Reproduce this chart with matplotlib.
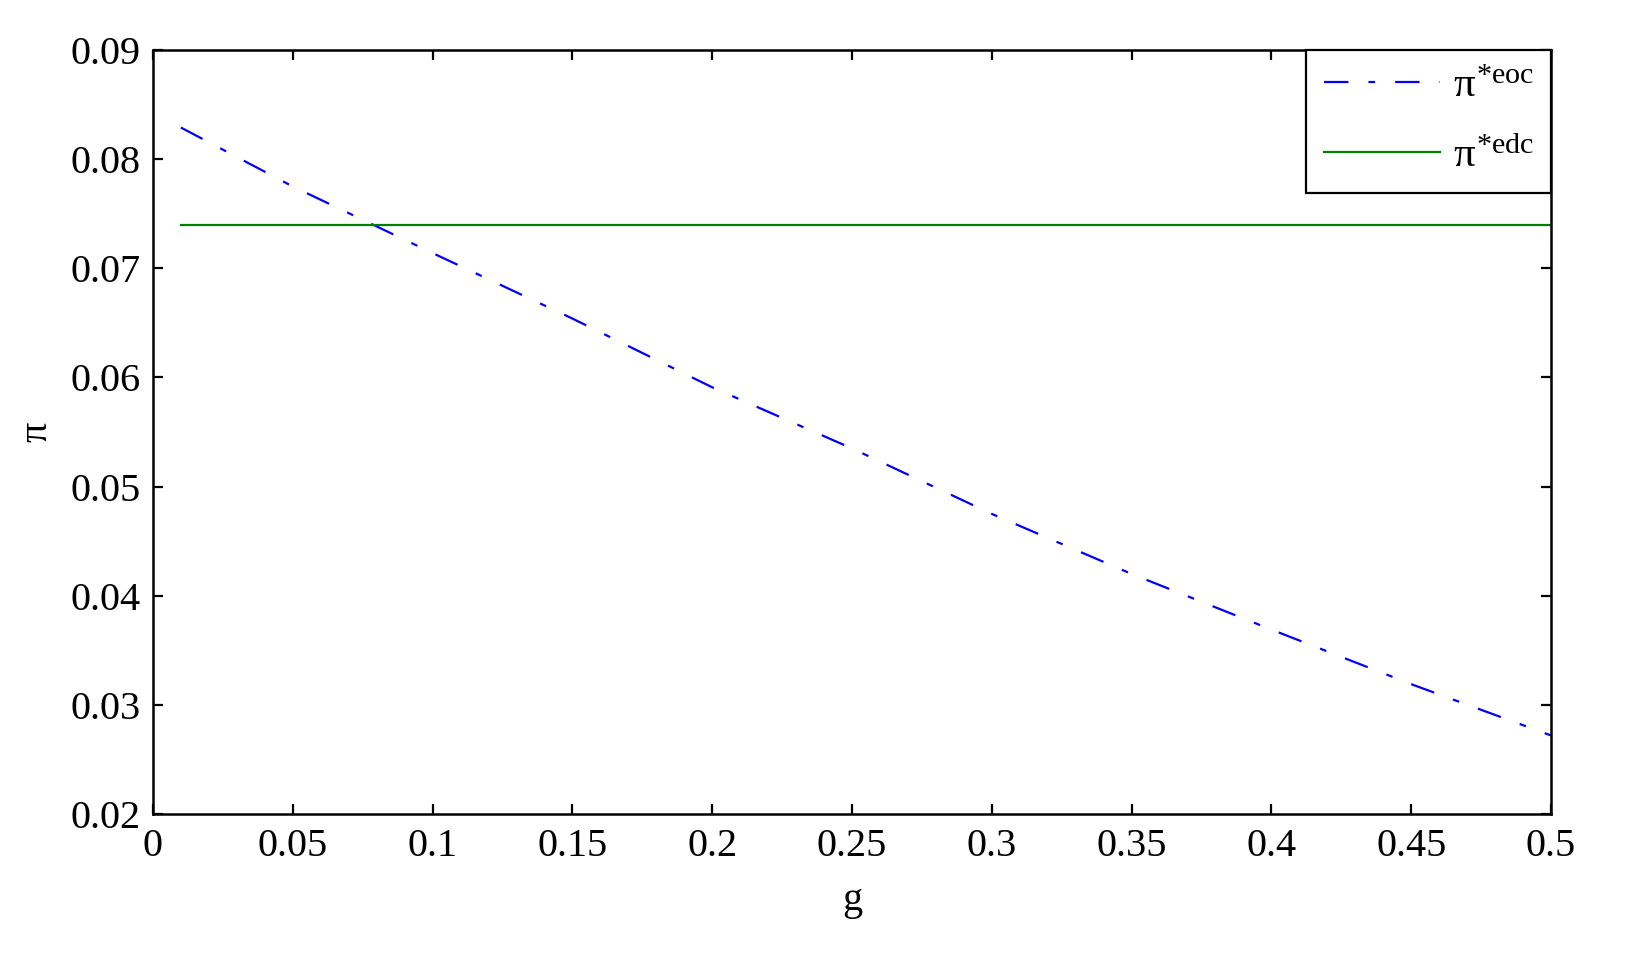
import matplotlib
matplotlib.use("Agg")
import matplotlib.pyplot as plt

# Data
g_eoc = [0.01, 0.05, 0.10, 0.15, 0.20, 0.25, 0.30, 0.35, 0.40, 0.45, 0.50]
pi_eoc = [0.0829, 0.0775, 0.0714, 0.0654, 0.0591, 0.0535, 0.0475, 0.0420, 0.0369, 0.0319, 0.0272]
g_edc = [0.01, 0.50]
pi_edc = [0.0740, 0.0740]
xticks = [0, 0.05, 0.1, 0.15, 0.2, 0.25, 0.3, 0.35, 0.4, 0.45, 0.5]
xtick_labels = ["0", "0.05", "0.1", "0.15", "0.2", "0.25", "0.3", "0.35", "0.4", "0.45", "0.5"]
yticks = [0.02, 0.03, 0.04, 0.05, 0.06, 0.07, 0.08, 0.09]
ytick_labels = ["0.02", "0.03", "0.04", "0.05", "0.06", "0.07", "0.08", "0.09"]

plt.rcParams['font.family'] = ['Liberation Serif', 'DejaVu Serif']
plt.rcParams['mathtext.fontset'] = 'custom'
plt.rcParams['mathtext.rm'] = 'Liberation Serif'
plt.rcParams['mathtext.it'] = 'Liberation Serif'
plt.rcParams['mathtext.bf'] = 'Liberation Serif:bold'

fig = plt.figure(figsize=(16.27, 9.55), dpi=100)
ax = fig.add_axes([0.094, 0.1476, 0.8593, 0.80])

ax.plot(g_eoc, pi_eoc, color='#0000FF', linewidth=1.6,
        linestyle=(0, (11, 9, 3, 9)), label=r'$\pi^{*eoc}$')
ax.plot(g_edc, pi_edc, color='#008000', linewidth=1.6, label=r'$\pi^{*edc}$')

ax.set_xlim(0, 0.5)
ax.set_ylim(0.02, 0.09)
ax.set_xticks(xticks)
ax.set_xticklabels(xtick_labels)
ax.set_yticks(yticks)
ax.set_yticklabels(ytick_labels)
ax.tick_params(direction='in', length=7, width=1.6, top=True, right=True,
               labelsize=29, colors='black')
ax.tick_params(axis='x', pad=10)
ax.tick_params(axis='y', pad=9)
for s in ax.spines.values():
    s.set_linewidth(1.8)

ax.set_xlabel('g', fontsize=29, labelpad=12)
ax.set_ylabel(r'$\pi$', fontsize=29, labelpad=10)

leg = ax.legend(loc='upper right', fontsize=31, borderaxespad=0,
                fancybox=False, edgecolor='black', handlelength=2.7,
                handletextpad=0.3, borderpad=0.4, labelspacing=0.7)
leg.get_frame().set_linewidth(1.6)
leg.get_frame().set_alpha(1)

fig.savefig('out.png', dpi=100, facecolor='white')
